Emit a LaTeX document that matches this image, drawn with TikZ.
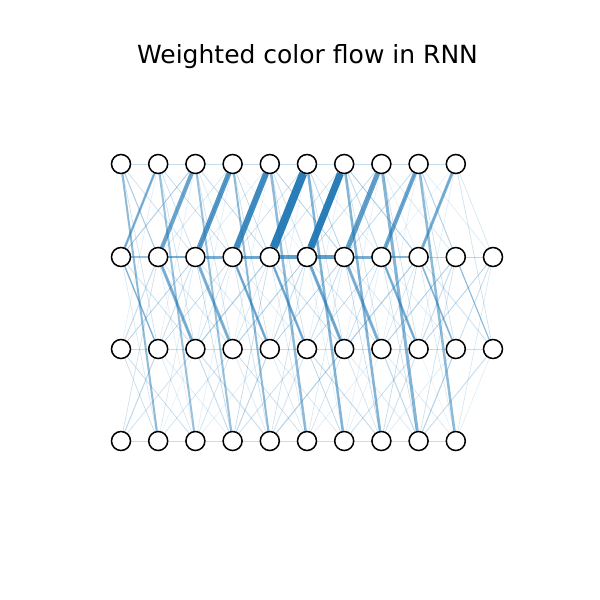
\documentclass[tikz,border=0pt]{standalone}
\usepackage{fontspec}
\newfontfamily\titlefont{DejaVu Sans}
\usetikzlibrary{backgrounds}
\definecolor{flowblue}{HTML}{1F77B4}
\tikzset{
  unit/.style={circle, draw=black, line width=1.5pt, fill=white, minimum size=19pt, inner sep=0pt},
  flow/.style={draw=flowblue, line cap=butt},
}

\begin{document}
\begin{tikzpicture}[x=1pt, y=-1pt]
  \useasboundingbox (0,0) rectangle (600,600);
  \node[font=\titlefont\fontsize{25}{30}\selectfont, anchor=base] (title) at (307.5,63.5) {Weighted color flow in RNN};
  % units, one row per layer
  \foreach \k in {1,...,10} \node[unit] (a\k) at ({121+37.2*(\k-1)},164) {};
  \foreach \k in {1,...,11} \node[unit] (b\k) at ({121+37.2*(\k-1)},257) {};
  \foreach \k in {1,...,11} \node[unit] (c\k) at ({121+37.2*(\k-1)},349) {};
  \foreach \k in {1,...,10} \node[unit] (d\k) at ({121+37.2*(\k-1)},441) {};
  \begin{pgfonlayer}{background}
    % weak flow between neighbouring layers
    \foreach \i in {1,...,10}
      \foreach \d in {-2,-1,1,2} {
        \pgfmathtruncatemacro\j{\i+\d}
        \pgfmathsetmacro\op{0.12+0.06*mod(3*\i+7*\d+14,5)}
        \pgfmathsetmacro\lw{0.5+0.2*mod(2*\i+3*\d+6,4)}
        \ifnum\j>0 \ifnum\j<12
          \draw[flow, line width=\lw pt, draw opacity=\op] (a\i) -- (b\j);
        \fi\fi
      }
    \foreach \i in {1,...,11}
      \foreach \d in {-2,-1,1,2} {
        \pgfmathtruncatemacro\j{\i+\d}
        \pgfmathsetmacro\op{0.12+0.06*mod(5*\i+3*\d+10,5)}
        \pgfmathsetmacro\lw{0.5+0.2*mod(3*\i+\d+6,4)}
        \ifnum\j>0 \ifnum\j<12
          \draw[flow, line width=\lw pt, draw opacity=\op] (b\i) -- (c\j);
        \fi\fi
      }
    \foreach \i in {1,...,11}
      \foreach \d in {-2,-1,1,2} {
        \pgfmathtruncatemacro\j{\i+\d}
        \pgfmathsetmacro\op{0.12+0.05*mod(2*\i+9*\d+18,5)}
        \pgfmathsetmacro\lw{0.5+0.2*mod(\i+5*\d+10,4)}
        \ifnum\j>0 \ifnum\j<11
          \draw[flow, line width=\lw pt, draw opacity=\op] (c\i) -- (d\j);
        \fi\fi
      }
    % weak skip flow over one layer
    \foreach \i in {1,...,10}
      \foreach \d in {-1,1} {
        \pgfmathtruncatemacro\j{\i+\d}
        \pgfmathsetmacro\op{0.12+0.05*mod(4*\i+3*\d+3,4)}
        \ifnum\j>0 \ifnum\j<12
          \draw[flow, line width=0.7pt, draw opacity=\op] (a\i) -- (c\j);
        \fi\fi
      }
    \foreach \i in {1,...,11}
      \foreach \d in {-1,1} {
        \pgfmathtruncatemacro\j{\i+\d}
        \pgfmathsetmacro\op{0.12+0.05*mod(3*\i+5*\d+5,4)}
        \ifnum\j>0 \ifnum\j<11
          \draw[flow, line width=0.7pt, draw opacity=\op] (b\i) -- (d\j);
        \fi\fi
      }
    % recurrent flow inside a layer
    \foreach \p/\q in {1/2,2/3,3/4,4/5,5/6,6/7,7/8,8/9,9/10}
      \draw[flow, line width=0.8pt, draw opacity=0.25] (a\p) -- (a\q);
    \foreach \p/\q in {1/2,2/3,3/4,4/5,5/6,6/7,7/8,8/9,9/10,10/11}
      \draw[flow, line width=0.8pt, draw opacity=0.25] (c\p) -- (c\q);
    \foreach \p/\q in {1/2,2/3,3/4,4/5,5/6,6/7,7/8,8/9,9/10}
      \draw[flow, line width=0.8pt, draw opacity=0.25] (d\p) -- (d\q);
    \foreach \p/\q/\w/\o in {1/2/1.5/.45, 2/3/2.5/.6, 3/4/3/.6, 4/5/3/.65, 5/6/3.5/.7,
        6/7/3.5/.7, 7/8/3/.6, 8/9/2.5/.55, 9/10/1/.35, 10/11/0.8/.3}
      \draw[flow, line width=\w pt, draw opacity=\o] (b\p) -- (b\q);
    % strong flow
    \foreach \p/\q/\w/\o in {2/1/2.5/.5, 3/2/4/.65, 4/3/5/.75, 5/4/6/.85, 6/5/8/.95,
        7/6/7/.95, 8/7/5/.7, 9/8/4/.65, 10/9/3/.55}
      \draw[flow, line width=\w pt, draw opacity=\o] (a\p) -- (b\q);
    \foreach \p/\q/\w/\o in {1/2/1.5/.4, 2/3/3/.55, 3/4/3/.55, 4/5/2.5/.55, 5/6/2.5/.55,
        6/7/3/.6, 7/8/3/.55, 8/9/2.5/.5, 9/10/1.8/.4, 10/11/1.2/.35}
      \draw[flow, line width=\w pt, draw opacity=\o] (b\p) -- (c\q);
    \foreach \p/\q/\w/\o in {1/2/2/.5, 2/3/2/.45, 3/4/2/.45, 4/5/2/.5, 5/6/2.5/.5,
        6/7/2.5/.55, 7/8/2.5/.55, 8/9/3/.55, 9/10/2.5/.5}
      \draw[flow, line width=\w pt, draw opacity=\o] (a\p) -- (d\q);
  \end{pgfonlayer}
\end{tikzpicture}
\end{document}
